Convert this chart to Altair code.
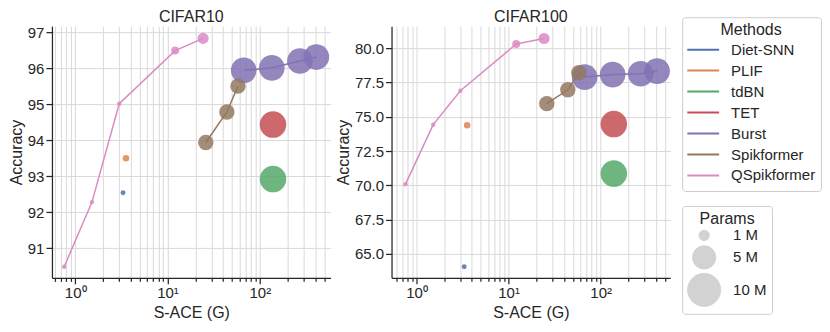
import altair as alt
import pandas as pd

FONT = "Liberation Sans"
INK = "#262626"

methods = ["Diet-SNN", "PLIF", "tdBN", "TET", "Burst", "Spikformer", "QSpikformer"]
palette = ["#4c72b0", "#dd8452", "#55a868", "#c44e52", "#8172b3", "#937860", "#da8bc3"]

# S-ACE (G), params (M), accuracy on CIFAR10 / CIFAR100
diet_sace = [3.3];   diet_params = [0.22]; diet_c10 = [92.54]; diet_c100 = [64.07]
plif_sace = [3.55];  plif_params = [0.39]; plif_c10 = [93.50]; plif_c100 = [74.38]
tdbn_sace = [139];   tdbn_params = [6.4];  tdbn_c10 = [92.92]; tdbn_c100 = [70.86]
tet_sace = [139];    tet_params = [6.4];   tet_c10 = [94.44];  tet_c100 = [74.47]
burst_sace = [67, 135, 272, 410]
burst_params = [6.0, 6.0, 6.0, 6.0]
burst_c10 = [95.95, 96.02, 96.21, 96.32]
burst_c100 = [77.90, 78.08, 78.14, 78.33]
spik_sace = [26, 44, 58]
spik_params = [2.16, 2.16, 2.16]
spik_c10 = [93.94, 94.79, 95.51]
spik_c100 = [75.96, 76.97, 78.21]
qspik_sace = [0.76, 1.52, 3.0, 12.1, 24.3]
qspik_params = [0.18, 0.18, 0.18, 0.58, 1.13]
qspik_c10 = [90.48, 92.28, 95.02, 96.50, 96.84]
qspik_c100 = [70.09, 74.43, 76.90, 80.31, 80.71]

series = [
    ("Diet-SNN", diet_sace, diet_params, diet_c10, diet_c100),
    ("PLIF", plif_sace, plif_params, plif_c10, plif_c100),
    ("tdBN", tdbn_sace, tdbn_params, tdbn_c10, tdbn_c100),
    ("TET", tet_sace, tet_params, tet_c10, tet_c100),
    ("Burst", burst_sace, burst_params, burst_c10, burst_c100),
    ("Spikformer", spik_sace, spik_params, spik_c10, spik_c100),
    ("QSpikformer", qspik_sace, qspik_params, qspik_c10, qspik_c100),
]
rows = []
for name, s, p, a10, a100 in series:
    for i in range(len(s)):
        rows.append(dict(method=name, sace=s[i], params=p[i], acc=a10[i], dataset="CIFAR10"))
        rows.append(dict(method=name, sace=s[i], params=p[i], acc=a100[i], dataset="CIFAR100"))
df = pd.DataFrame(rows)

x_ticks = [0.6, 0.7, 0.8, 0.9, 1, 2, 3, 4, 5, 6, 7, 8, 9, 10, 20, 30, 40, 50, 60, 70, 80, 90,
           100, 200, 300, 400, 500]
c10_ticks = [91, 92, 93, 94, 95, 96, 97]
c100_ticks = [65.0, 67.5, 70.0, 72.5, 75.0, 77.5, 80.0]
size_legend_values = [1, 5, 10]

cscale = alt.Scale(domain=methods, range=palette)
sscale = alt.Scale(type="linear", domain=[0, 10], range=[0, 1100], zero=True)

PLOT_LEFT, PLOT_TOP = 51, 26

color_legend = alt.Legend(
    title="Methods", orient="none", legendX=682 - PLOT_LEFT, legendY=17 - PLOT_TOP,
    symbolType="M-1,-0.0625H1V0.0625H-1Z", symbolSize=1024, symbolStrokeWidth=0,
    symbolOpacity=1, labelOffset=12, clipHeight=21, rowPadding=0, padding=5, titlePadding=1,
)
size_legend = alt.Legend(
    title="Params", orient="none", legendX=682 - PLOT_LEFT, legendY=206 - PLOT_TOP,
    values=size_legend_values, labelExpr="datum.value + ' M'",
    symbolType="circle", symbolFillColor="#808080", symbolStrokeColor="#808080",
    symbolOpacity=0.35, symbolStrokeWidth=0.8, labelOffset=12, rowPadding=0,
    padding=5, titlePadding=1,
)

x_axis = alt.Axis(
    values=x_ticks,
    labelExpr="datum.value == 1 ? '10⁰' : datum.value == 10 ? '10¹' : datum.value == 100 ? '10²' : ''",
    tickSize={"condition": {"test": "indexof([1, 10, 100], datum.value) >= 0", "value": 6}, "value": 3.5},
    labelPadding=2, titlePadding=4, labelFlush=False, labelOverlap=False,
)


def panel(ds, ydom, yvals, yfmt, xdom):
    base = alt.Chart(df[df.dataset == ds])
    x = alt.X("sace:Q", title="S-ACE (G)",
              scale=alt.Scale(type="log", domain=xdom, nice=False), axis=x_axis)
    y = alt.Y("acc:Q", title="Accuracy",
              scale=alt.Scale(domain=ydom, nice=False, zero=False),
              axis=alt.Axis(values=yvals, format=yfmt, tickSize=6, labelPadding=2, titlePadding=3))
    pts = base.mark_circle(opacity=0.85, clip=True).encode(
        x=x, y=y,
        color=alt.Color("method:N", scale=cscale, legend=color_legend),
        size=alt.Size("params:Q", scale=sscale, legend=size_legend),
    )
    lines = base.mark_line(strokeWidth=1.5, clip=True).encode(
        x=x, y=y,
        color=alt.Color("method:N", scale=cscale, legend=None),
    )
    return alt.layer(pts, lines).properties(width=279, height=252, title=ds)


left = panel("CIFAR10", [90.17, 97.18], c10_ticks, "d", [0.56, 585])
right = panel("CIFAR100", [63.26, 81.61], c100_ticks, ".1f", [0.536, 569])

chart = (
    alt.hconcat(left, right, spacing=4)
    .resolve_scale(color="shared", size="shared")
    .properties(padding=0)
    .configure_view(stroke=None)
    .configure_axis(
        domainColor=INK, domainWidth=1.25, tickColor=INK, tickWidth=1.25,
        labelColor=INK, titleColor=INK, labelFont=FONT, titleFont=FONT,
        labelFontSize=15, titleFontSize=16, titleFontWeight="normal",
        gridColor="#d9d9d9", gridWidth=1,
    )
    .configure_legend(
        labelFont=FONT, titleFont=FONT, labelFontSize=15, titleFontSize=16,
        titleFontWeight="normal", labelColor=INK, titleColor=INK, titleAnchor="middle",
        strokeColor="#cccccc", cornerRadius=3, fillColor="white",
    )
    .configure_title(font=FONT, fontSize=16, fontWeight="normal", color=INK, offset=1, anchor="middle")
)

chart.save("out.html", embed_options={"renderer": "svg", "actions": False})
